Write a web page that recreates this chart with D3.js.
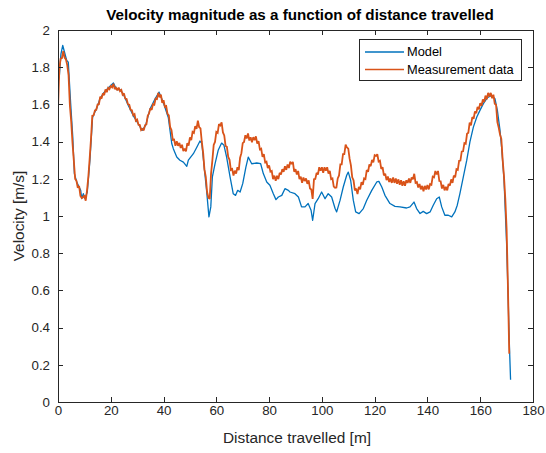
<!DOCTYPE html>
<html>
<head>
<meta charset="utf-8">
<script src="https://cdn.jsdelivr.net/npm/d3@7"></script>
<style>
  html, body { margin: 0; padding: 0; background: #fff; }
  svg { display: block; font-family: "Liberation Sans", Arial, Helvetica, sans-serif; }
</style>
</head>
<body>
<svg id="chart" width="546" height="453"></svg>
<script>
// ---- data ----------------------------------------------------------------
const titleText = "Velocity magnitude as a function of distance travelled";
const xLabelText = "Distance travelled [m]";
const yLabelText = "Velocity [m/s]";
const seriesNames = ["Model", "Measurement data"];
const xTicks = [0, 20, 40, 60, 80, 100, 120, 140, 160, 180];
const yTicks = [0, 0.2, 0.4, 0.6, 0.8, 1, 1.2, 1.4, 1.6, 1.8, 2];

// model: distance [m] and velocity [m/s]
const modelDistance = [
  0.0, 0.5, 1.1, 1.8, 2.3, 3.3, 3.9, 4.8, 5.6, 6.2, 7.1, 8.6, 9.0, 9.6, 10.2, 11.1,
  12.1, 13.1, 14.0, 14.7, 15.9, 17.2, 19.1, 21.0, 22.2, 23.5, 24.7, 26.6, 28.5, 30.4,
  31.9, 33.2, 34.9, 36.8, 38.3, 39.9, 41.8, 43.1, 43.7, 45.0, 46.2, 47.5, 48.8, 49.4,
  51.3, 52.6, 53.8, 54.5, 55.4, 56.3, 57.2, 57.9, 58.5, 59.5, 60.7, 62.0, 62.9, 63.9,
  65.2, 66.4, 67.3, 68.1, 69.0, 70.0, 71.2, 72.1, 73.4, 75.3, 76.8, 77.8, 79.1, 80.3,
  81.6, 82.6, 83.5, 84.8, 86.0, 87.3, 87.9, 89.8, 91.1, 92.3, 93.6, 94.8, 95.9, 96.5,
  97.4, 98.6, 99.9, 101.2, 102.4, 103.7, 105.0, 105.6, 106.9, 108.1, 109.4, 110.0,
  110.9, 111.9, 112.8, 114.1, 115.7, 117.0, 118.9, 120.8, 121.6, 122.7, 123.9, 125.8,
  127.7, 129.6, 132.1, 133.4, 134.9, 135.9, 137.2, 138.4, 139.7, 141.0, 142.2, 143.5,
  144.5, 145.4, 146.6, 147.9, 149.2, 150.4, 151.3, 152.3, 153.6, 154.9, 156.1, 157.4,
  158.7, 159.9, 161.2, 162.7, 164.3, 165.6, 166.5, 167.5, 168.1, 169.0, 170.0, 170.6,
  171.0, 171.5
];
const modelVelocity = [
  1.72, 1.75, 1.87, 1.917, 1.89, 1.836, 1.827, 1.604, 1.424, 1.228, 1.183, 1.138, 1.094, 1.12, 1.094, 1.129,
  1.30, 1.53, 1.56, 1.58, 1.63, 1.66, 1.69, 1.715, 1.68, 1.68, 1.657, 1.595, 1.54, 1.496,
  1.46, 1.487, 1.577, 1.63, 1.666, 1.61, 1.53, 1.39, 1.362, 1.317, 1.30, 1.29, 1.267, 1.30,
  1.335, 1.37, 1.403, 1.39, 1.263, 1.138, 0.995, 1.049, 1.21, 1.28, 1.353, 1.392, 1.38, 1.317,
  1.21, 1.12, 1.111, 1.138, 1.129, 1.174, 1.263, 1.317, 1.281, 1.285, 1.281, 1.228, 1.183, 1.165,
  1.12, 1.088, 1.102, 1.111, 1.147, 1.138, 1.129, 1.12, 1.102, 1.049, 1.049, 1.067, 1.031, 0.977,
  1.067, 1.093, 1.129, 1.093, 1.12, 1.102, 1.04, 1.022, 1.085, 1.156, 1.219, 1.236,
  1.192, 1.085, 1.022, 1.013, 1.04, 1.085, 1.138, 1.183, 1.186, 1.156, 1.111, 1.067,
  1.052, 1.049, 1.043, 1.049, 1.075, 1.04, 1.013, 1.025, 1.013, 1.022, 1.058, 1.093,
  1.102, 1.049, 1.004, 1.004, 0.995, 1.022, 1.058, 1.12, 1.21, 1.30, 1.398, 1.478,
  1.532, 1.568, 1.604, 1.636, 1.648, 1.63, 1.568, 1.46, 1.37, 1.20, 0.85, 0.55,
  0.33, 0.12
];

// measurement: sampled every 0.5 m starting at 0 m
const measStart = 0;
const measStep = 0.5;
const measVelocity = [
  1.572, 1.790, 1.846, 1.849, 1.886, 1.852, 1.842, 1.811, 1.757, 1.594,
  1.508, 1.391, 1.297, 1.199, 1.189, 1.152, 1.161, 1.108, 1.097, 1.101,
  1.111, 1.082, 1.138, 1.211, 1.309, 1.414, 1.539, 1.541, 1.568, 1.571,
  1.599, 1.601, 1.641, 1.631, 1.659, 1.650, 1.681, 1.666, 1.689, 1.682,
  1.698, 1.691, 1.711, 1.682, 1.689, 1.676, 1.690, 1.671, 1.678, 1.652,
  1.659, 1.631, 1.629, 1.601, 1.598, 1.571, 1.569, 1.542, 1.548, 1.512,
  1.518, 1.491, 1.489, 1.462, 1.468, 1.461, 1.489, 1.492, 1.539, 1.551,
  1.579, 1.571, 1.601, 1.598, 1.631, 1.629, 1.662, 1.638, 1.652, 1.608,
  1.622, 1.588, 1.591, 1.549, 1.541, 1.478, 1.462, 1.409, 1.411, 1.378,
  1.402, 1.377, 1.393, 1.366, 1.383, 1.349, 1.362, 1.348, 1.392, 1.379,
  1.422, 1.408, 1.452, 1.447, 1.483, 1.468, 1.512, 1.477, 1.471, 1.398,
  1.341, 1.249, 1.211, 1.129, 1.098, 1.092, 1.228, 1.299, 1.382, 1.398,
  1.452, 1.447, 1.494, 1.487, 1.503, 1.449, 1.433, 1.377, 1.372, 1.318,
  1.302, 1.248, 1.253, 1.217, 1.244, 1.228, 1.263, 1.247, 1.313, 1.338,
  1.392, 1.398, 1.434, 1.417, 1.444, 1.406, 1.423, 1.397, 1.424, 1.408,
  1.428, 1.389, 1.402, 1.358, 1.362, 1.318, 1.333, 1.288, 1.292, 1.258,
  1.272, 1.238, 1.242, 1.198, 1.217, 1.189, 1.216, 1.198, 1.232, 1.223,
  1.252, 1.238, 1.267, 1.248, 1.277, 1.258, 1.292, 1.279, 1.291, 1.238,
  1.252, 1.223, 1.242, 1.198, 1.212, 1.178, 1.207, 1.188, 1.202, 1.173,
  1.192, 1.148, 1.142, 1.092, 1.198, 1.199, 1.232, 1.223, 1.262, 1.243,
  1.262, 1.233, 1.262, 1.243, 1.262, 1.228, 1.242, 1.198, 1.202, 1.158,
  1.152, 1.153, 1.202, 1.218, 1.278, 1.278, 1.333, 1.333, 1.384, 1.368,
  1.362, 1.308, 1.272, 1.208, 1.192, 1.138, 1.147, 1.118, 1.157, 1.143,
  1.182, 1.168, 1.202, 1.198, 1.247, 1.238, 1.277, 1.268, 1.302, 1.288,
  1.327, 1.323, 1.332, 1.293, 1.297, 1.253, 1.262, 1.218, 1.227, 1.193,
  1.212, 1.183, 1.202, 1.178, 1.207, 1.178, 1.202, 1.173, 1.197, 1.168,
  1.192, 1.163, 1.187, 1.163, 1.192, 1.178, 1.202, 1.178, 1.207, 1.198,
  1.227, 1.178, 1.182, 1.153, 1.172, 1.143, 1.162, 1.133, 1.162, 1.143,
  1.167, 1.143, 1.172, 1.168, 1.212, 1.208, 1.242, 1.223, 1.242, 1.188,
  1.187, 1.148, 1.167, 1.138, 1.157, 1.138, 1.172, 1.163, 1.197, 1.178,
  1.217, 1.208, 1.252, 1.248, 1.297, 1.298, 1.347, 1.348, 1.392, 1.388,
  1.442, 1.448, 1.502, 1.488, 1.532, 1.523, 1.562, 1.553, 1.587, 1.573,
  1.607, 1.593, 1.627, 1.613, 1.647, 1.628, 1.662, 1.643, 1.662, 1.633,
  1.652, 1.603, 1.598, 1.505, 1.476, 1.438, 1.414, 1.302, 1.214, 1.094,
  0.930, 0.620, 0.260
];

// ---- layout --------------------------------------------------------------
const plot = { left: 58, top: 30, right: 533, bottom: 402 };
const colors = { model: "#0072BD", meas: "#D95319", axis: "#262626" };

const svg = d3.select("#chart");

const x = d3.scaleLinear().domain([0, 180]).range([plot.left, plot.right]);
const y = d3.scaleLinear().domain([0, 2]).range([plot.bottom, plot.top]);

svg.append("rect")
  .attr("x", plot.left).attr("y", plot.top)
  .attr("width", plot.right - plot.left).attr("height", plot.bottom - plot.top)
  .attr("fill", "#fff");

// ---- series --------------------------------------------------------------
const clip = svg.append("defs").append("clipPath").attr("id", "plotClip");
clip.append("rect")
  .attr("x", plot.left).attr("y", plot.top - 2)
  .attr("width", plot.right - plot.left).attr("height", plot.bottom - plot.top + 4);

const lines = svg.append("g").attr("clip-path", "url(#plotClip)");

const modelPoints = modelDistance.map((d, i) => [d, modelVelocity[i]]);
const measPoints = measVelocity.map((v, i) => [measStart + i * measStep, v]);

const line = d3.line().x(d => x(d[0])).y(d => y(d[1]));

lines.append("path")
  .datum(modelPoints)
  .attr("d", line)
  .attr("fill", "none")
  .attr("stroke", colors.model)
  .attr("stroke-width", 1.3)
  .attr("stroke-linejoin", "round");

// the measured signal is noisy, so it reads as a dense band
lines.append("path")
  .datum(measPoints)
  .attr("d", line)
  .attr("fill", "none")
  .attr("stroke", colors.meas)
  .attr("stroke-width", 1.8)
  .attr("stroke-linejoin", "miter")
  .attr("stroke-miterlimit", 2);

// ---- axes (box with inward ticks) ---------------------------------------
const tickFont = "13.3px";
const axes = svg.append("g").attr("class", "axes");

const xAxisBottom = d3.axisBottom(x).tickValues(xTicks).tickSizeInner(-5).tickSizeOuter(0).tickPadding(4)
  .tickFormat(d3.format("d"));
const xAxisTop = d3.axisTop(x).tickValues(xTicks).tickSizeInner(-5).tickSizeOuter(0).tickFormat("");
const yAxisLeft = d3.axisLeft(y).tickValues(yTicks).tickSizeInner(-5).tickSizeOuter(0).tickPadding(8)
  .tickFormat(d => d3.format("~g")(d));
const yAxisRight = d3.axisRight(y).tickValues(yTicks).tickSizeInner(-5).tickSizeOuter(0).tickFormat("");

function styleAxis(g) {
  g.selectAll("path.domain").attr("stroke", colors.axis).attr("stroke-width", 1).attr("shape-rendering", "crispEdges");
  g.selectAll(".tick line").attr("stroke", colors.axis).attr("stroke-width", 1).attr("shape-rendering", "crispEdges");
  g.selectAll(".tick text").attr("fill", colors.axis).style("font-size", tickFont)
    .style("font-family", "'Liberation Sans', Arial, Helvetica, sans-serif");
}

axes.append("g").attr("transform", `translate(0,${plot.bottom})`).call(xAxisBottom).call(styleAxis);
axes.append("g").attr("transform", `translate(0,${plot.top})`).call(xAxisTop).call(styleAxis);
axes.append("g").attr("transform", `translate(${plot.left},0)`).call(yAxisLeft).call(styleAxis);
axes.append("g").attr("transform", `translate(${plot.right},0)`).call(yAxisRight).call(styleAxis);

// ---- labels --------------------------------------------------------------
svg.append("text")
  .attr("x", 300).attr("y", 20)
  .attr("text-anchor", "middle")
  .attr("font-weight", "bold")
  .attr("font-size", "15.2px")
  .attr("fill", "#000")
  .text(titleText);

svg.append("text")
  .attr("x", 297).attr("y", 443)
  .attr("text-anchor", "middle")
  .attr("font-size", "15.4px")
  .attr("fill", colors.axis)
  .text(xLabelText);

svg.append("text")
  .attr("transform", `translate(24,${(plot.top + plot.bottom) / 2}) rotate(-90)`)
  .attr("text-anchor", "middle")
  .attr("font-size", "15.4px")
  .attr("fill", colors.axis)
  .text(yLabelText);

// ---- legend --------------------------------------------------------------
const legend = svg.append("g").attr("class", "legend");
legend.append("rect")
  .attr("x", 359.5).attr("y", 39.5).attr("width", 162).attr("height", 41)
  .attr("fill", "#fff").attr("stroke", colors.axis).attr("stroke-width", 1)
  .attr("shape-rendering", "crispEdges");

const legendRows = [
  { name: seriesNames[0], color: colors.model, y: 52 },
  { name: seriesNames[1], color: colors.meas, y: 69.5 }
];
legendRows.forEach(r => {
  legend.append("line")
    .attr("x1", 365).attr("x2", 404).attr("y1", r.y).attr("y2", r.y)
    .attr("stroke", r.color).attr("stroke-width", 1.3);
  legend.append("text")
    .attr("x", 407).attr("y", r.y).attr("dy", "0.35em")
    .attr("font-size", "12.8px").attr("fill", "#000")
    .text(r.name);
});
</script>
</body>
</html>
